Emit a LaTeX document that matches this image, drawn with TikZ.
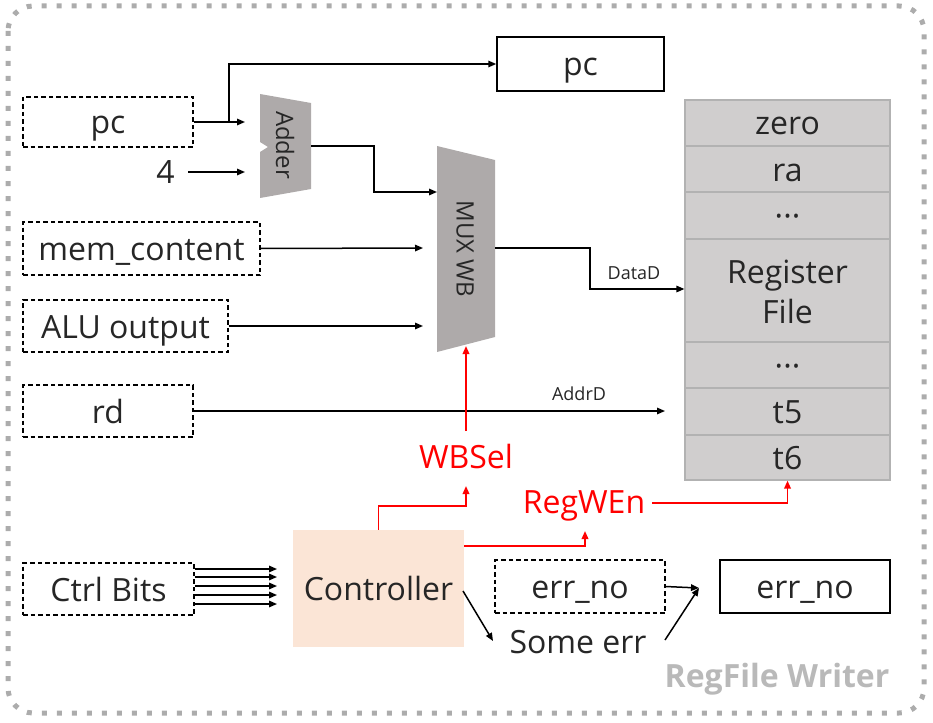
\documentclass[tikz,border=0pt]{standalone}
\usepackage{fontspec}
\setmainfont{Open Sans}
\usetikzlibrary{arrows.meta}
\definecolor{bordergray}{RGB}{172,172,172}
\definecolor{unitgray}{RGB}{174,170,170}
\definecolor{regfill}{RGB}{208,206,206}
\definecolor{regline}{RGB}{178,178,178}
\definecolor{ctrlfill}{RGB}{251,229,214}
\definecolor{sigred}{RGB}{255,0,0}
\definecolor{txtgray}{RGB}{38,38,38}
\definecolor{titlegray}{RGB}{185,185,185}
\newcommand\mainsz{\fontsize{32}{40}\selectfont}
\newcommand\midsz{\fontsize{24}{29}\selectfont}
\newcommand\smallsz{\fontsize{18}{22}\selectfont}
\tikzset{
  ctext/.style={text height=26pt, text depth=2pt},
  dbox/.style={draw=black, dash pattern=on 4.5pt off 3pt, line width=1.3pt, inner sep=0pt, font=\mainsz, text=txtgray, ctext},
  sbox/.style={draw=black, line width=1.5pt, inner sep=0pt, font=\mainsz, text=txtgray, ctext},
  regrow/.style={draw=regline, fill=regfill, line width=1.2pt, minimum width=205pt, inner sep=0pt, font=\mainsz, text=txtgray, ctext},
  wire/.style={line width=1.5pt, draw=black, -{Triangle[length=8pt,width=6.5pt]}},
  redwire/.style={line width=1.8pt, draw=sigred, -{Triangle[length=8pt,width=6.5pt]}},
  lbl/.style={inner sep=0pt, font=\mainsz, text=txtgray, anchor=base},
  smalllbl/.style={inner sep=0pt, font=\smallsz, text=txtgray, anchor=base},
  redlbl/.style={inner sep=0pt, font=\mainsz, text=sigred, anchor=base},
  unitlbl/.style={inner sep=0pt, font=\midsz, text=txtgray, rotate=-90},
}
\begin{document}
\begin{tikzpicture}[x=1pt,y=-1pt]
\useasboundingbox (0,0) rectangle (933,722);
% outer dotted frame
\draw[bordergray, line width=5pt, dash pattern=on 5pt off 10pt, rounded corners=25pt] (8,6) rectangle (924,713);
\node[font=\bfseries\mainsz, text=titlegray, inner sep=0pt, anchor=base] (title) at (777,687) {RegFile Writer};

% input boxes
\node[dbox, minimum width=170pt, minimum height=50pt] (pcin) at (108,122) {pc};
\node[dbox, minimum width=237pt, minimum height=53pt] (mem) at (141.5,248.5) {mem\_content};
\node[dbox, minimum width=205pt, minimum height=52pt] (alu) at (125.5,326) {ALU output};
\node[dbox, minimum width=170pt, minimum height=52pt] (rd) at (108,411) {rd};
\node[dbox, minimum width=171pt, minimum height=52pt] (ctrlbits) at (108.5,589) {Ctrl Bits};
\node[dbox, minimum width=170pt, minimum height=53pt] (errin) at (580,586.5) {err\_no};
\node[lbl] (four) at (165.5,183) {4};

% outputs
\node[sbox, minimum width=167pt, minimum height=54pt] (pcout) at (580.5,64) {pc};
\node[sbox, minimum width=170pt, minimum height=53pt] (errout) at (805,586.5) {err\_no};

% adder
\fill[unitgray] (260,94) -- (311,103) -- (311,189) -- (260,198) -- (260,152) -- (268,147) -- (260,142) -- cycle;
\node[unitlbl] (adder) at (285,145) {Adder};
% mux
\fill[unitgray] (437,146) -- (495,160) -- (495,337) -- (437,352) -- cycle;
\node[unitlbl] (mux) at (465,249) {MUX WB};

% register file
\node[regrow, minimum height=46pt] (rzero) at (787.5,123) {zero};
\node[regrow, minimum height=46pt] (rra) at (787.5,169) {ra};
\node[regrow, minimum height=47pt] (rdots) at (787.5,215.5) {···};
\node[regrow, minimum height=103pt] (regfile) at (787.5,290.5) {};
\node[lbl] (regl1) at (787.5,283) {Register};
\node[lbl] (regl2) at (787.5,323) {File};
\node[regrow, minimum height=46pt] (rdots2) at (787.5,365) {···};
\node[regrow, minimum height=47pt] (rt5) at (787.5,411.5) {t5};
\node[regrow, minimum height=45pt] (rt6) at (787.5,457.5) {t6};

% controller
\node[fill=ctrlfill, minimum width=171pt, minimum height=117pt, inner sep=0pt, font=\mainsz, text=txtgray, ctext] (ctrl) at (378.5,588.5) {Controller};

% signal labels
\node[redlbl] (wbsel) at (466,468) {WBSel};
\node[redlbl] (regwen) at (584,513) {RegWEn};
\node[lbl] (someerr) at (578,653) {Some err};
\node[smalllbl] (datad) at (634,279) {DataD};
\node[smalllbl] (addrd) at (579,400) {AddrD};

% helper coordinates
\coordinate (addin1) at (245,122);
\coordinate (addin2) at (245,172);
\coordinate (fourout) at (188,172);
\coordinate (branch) at (229,122);
\coordinate (addout) at (311,146);
\coordinate (muxin1) at (437,192);
\coordinate (muxin2) at (423,248);
\coordinate (muxin3) at (423,326);
\coordinate (muxout) at (495,248);
\coordinate (muxsel) at (466,346);
\coordinate (addrin) at (665,411);
\coordinate (merge) at (699,588);
\coordinate (errtip) at (493,641);
\coordinate (someerrout) at (665,640);
\coordinate (ctrlerr) at (463,591);
\coordinate (wbselup) at (466,431);
\coordinate (wbseltip) at (466,486);
\coordinate (regwentip) at (585,531);
\coordinate (regwenout) at (652,503);
\coordinate (ctrlregwen) at (464,546);

% black wires
\draw[wire] (pcin.east) -- (addin1);
\draw[wire] (branch) |- (pcout.west);
\draw[wire] (fourout) -- (addin2);
\draw[wire] (addout) -| (374,192) -- (muxin1);
\draw[wire] (mem.east) -- (muxin2);
\draw[wire] (alu.east) -- (muxin3);
\draw[wire] (muxout) -| (590,289) -- (regfile.west |- 0,289);
\draw[wire] (rd.east) -- (addrin);
\foreach \yy in {569,577,586,595,604}{
  \draw[wire] (ctrlbits.east |- 0,\yy) -- (277,\yy);
}
\draw[wire] (ctrlerr) -- (errtip);
\draw[wire] (errin.east) -- (merge);
\draw[wire] (someerrout) -- (merge);

% red wires
\draw[redwire] (wbselup) -- (muxsel);
\draw[redwire] (ctrl.north) |- (466,506) -- (wbseltip);
\draw[redwire] (ctrlregwen) -| (regwentip);
\draw[redwire] (regwenout) -| (rt6.south);
\end{tikzpicture}
\end{document}
